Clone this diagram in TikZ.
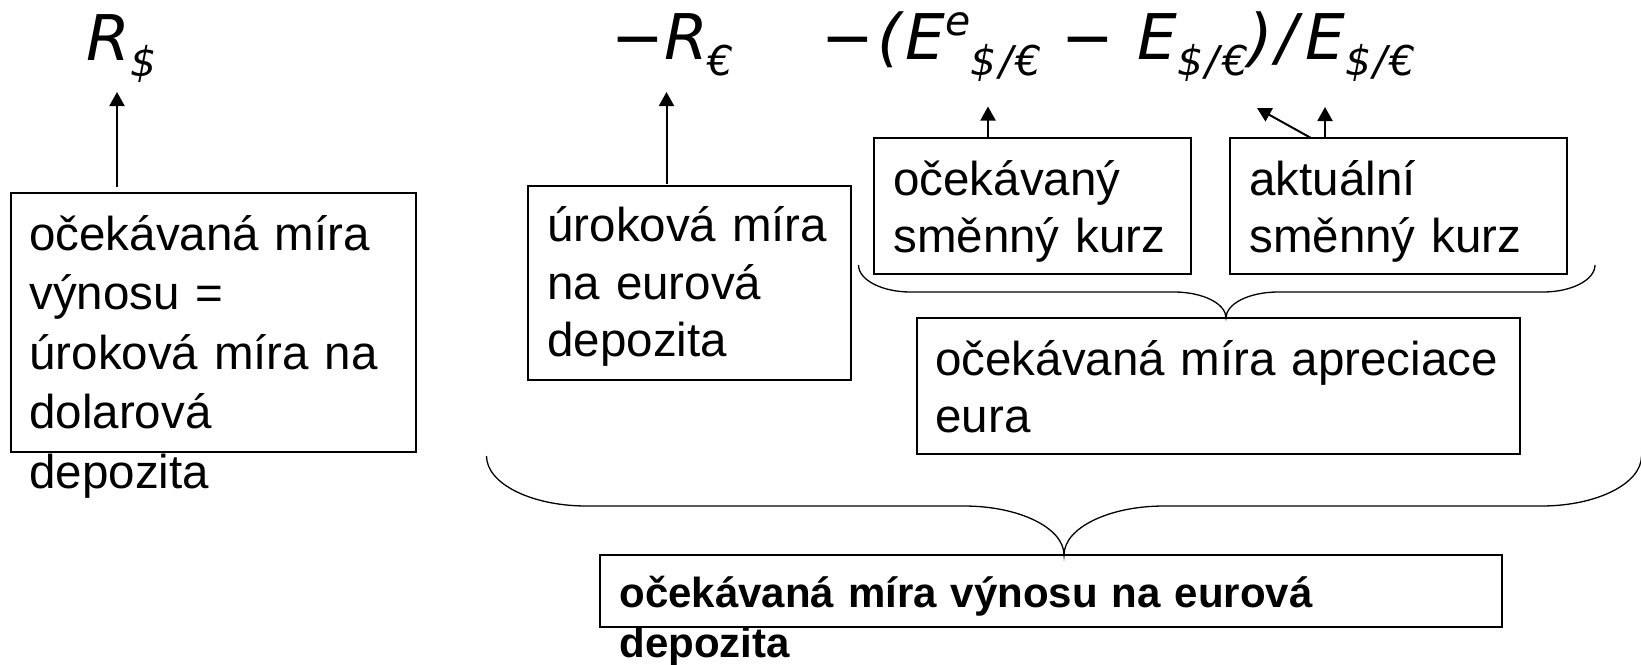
\documentclass[tikz,border=0pt]{standalone}
\usepackage{fontspec}
\setmainfont{Liberation Sans}
\newfontfamily\frmfam{DejaVu Sans}
\usetikzlibrary{arrows.meta,calc}
\newcommand\mysb[1]{\raisebox{-8pt}{\fontsize{20.5pt}{20.5pt}\selectfont #1}}
\newcommand\mysp[1]{\raisebox{12pt}{\fontsize{20.5pt}{20.5pt}\selectfont #1}}
\newcommand\dpe{\$\kern1.25pt/\kern1.25pt€}
\begin{document}
\begin{tikzpicture}[x=0.5pt,y=-0.5pt,
  boxn/.style={draw, line width=1pt, inner sep=0pt, outer sep=0pt, anchor=north west},
  lbl/.style={anchor=base west, inner sep=0pt, align=left, font={\fontsize{23.75pt}{28.75pt}\selectfont}},
  lblw/.style={anchor=base west, inner sep=0pt, align=left, font={\fontsize{23.75pt}{29.75pt}\selectfont}},
  lblb/.style={anchor=base west, inner sep=0pt, align=left, font={\bfseries\fontsize{21pt}{25pt}\selectfont}},
  frm/.style={anchor=base west, inner sep=0pt, font={\frmfam\itshape\fontsize{31.5pt}{36pt}\selectfont}},
  arr/.style={-{Triangle[width=7.5pt,length=7pt]}, line width=1pt},
  brc/.style={line width=0.65pt}]
\useasboundingbox (0,0) rectangle (1641,664);
% formula terms
\node[frm] (rs) at (86,60) {R\mysb{\$}};
\node[frm] (reur) at (611,59) {−R\mysb{€}};
\node[frm] (fx) at (821,59) {−\kern1.5pt(\kern2pt E\mysp{e}\mysb{\dpe} −\kern1.5pt{} E\mysb{\dpe})\kern2pt/\kern3.5pt E\mysb{\dpe}};
% boxes
\node[boxn, minimum width=202.5pt, minimum height=129.5pt] (b1) at (10.7,193) {};
\node[boxn, minimum width=161.25pt, minimum height=97pt] (b2) at (528,186) {};
\node[boxn, minimum width=158.5pt, minimum height=67.75pt] (b3) at (873.5,138) {};
\node[boxn, minimum width=168.75pt, minimum height=67.75pt] (b4) at (1229.5,138) {};
\node[boxn, minimum width=301.25pt, minimum height=67.75pt] (b5) at (917,318) {};
\node[boxn, minimum width=451pt, minimum height=36pt] (b6) at (600,555) {};
% box texts
\node[lblw, text width=200pt] (t1) at (29,250) {očekávaná míra\\výnosu =\\úroková míra na\\dolarová\\depozita};
\node[lbl, text width=158pt] (t2) at (547,241.7) {úroková míra\\na eurová\\depozita};
\node[lbl, text width=156pt] (t3) at (893,195) {očekávaný\\směnný kurz};
\node[lbl, text width=166pt] (t4) at (1249,195) {aktuální\\směnný kurz};
\node[lbl, text width=298pt] (t5) at (935,375) {očekávaná míra apreciace\\eura};
\node[lblb, text width=448pt] (t6) at (619,607) {očekávaná míra výnosu na eurová\\depozita};
% arrow targets
\coordinate (aRs) at (117,92);
\coordinate (aReur) at (666.5,92);
\coordinate (aEe) at (988,106.5);
\coordinate (aEd) at (1257,108);
\coordinate (aEv) at (1325,107);
\coordinate (dS) at (1311,138);
\draw[arr] ($(b1.north -| aRs)+(0,-6)$) -- (aRs);
\draw[arr] ($(b2.north -| aReur)+(0,-2)$) -- (aReur);
\draw[arr] (b3.north -| aEe) -- (aEe);
\draw[arr] (b4.north -| aEv) -- (aEv);
\draw[arr] (b4.north -| dS) -- (aEd);
% braces
\draw[brc] (858.5,265) .. controls (858.5,279.9) and (881.8,292) .. (910.5,292)
  -- (1174,292) .. controls (1202.7,292) and (1226,303.6) .. (b5.north -| 1226,0)
  .. controls (1226,303.6) and (1249.3,292) .. (1278,292)
  -- (1543,292) .. controls (1571.7,292) and (1595,279.9) .. (1595,265);
\draw[brc] (486.5,456) .. controls (486.5,483.6) and (531.3,506) .. (586.5,506)
  -- (964,506) .. controls (1019.2,506) and (1064,527.9) .. (b6.north -| 1064,0)
  .. controls (1064,527.9) and (1108.8,506) .. (1164,506)
  -- (1541.5,506) .. controls (1596.7,506) and (1641.5,483.6) .. (1641.5,456);
\end{tikzpicture}
\end{document}
